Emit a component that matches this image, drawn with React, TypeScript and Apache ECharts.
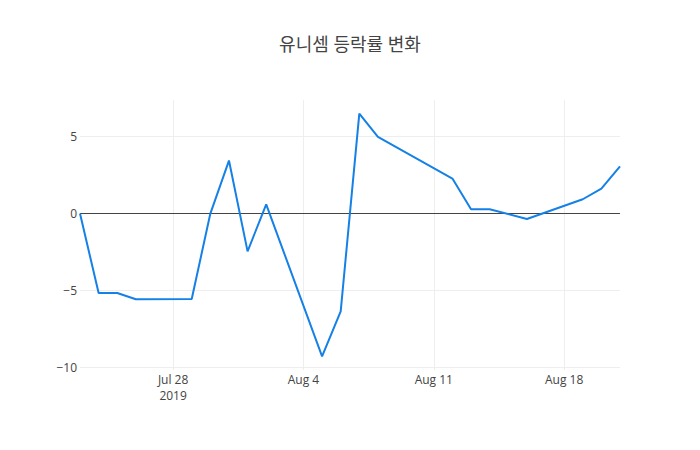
import React, { useEffect, useRef } from "react";
import * as echarts from "echarts";

const titleText = "유니셈 등락률 변화";

const dates = [
  "2019-07-23", "2019-07-24", "2019-07-25", "2019-07-26", "2019-07-29",
  "2019-07-30", "2019-07-31", "2019-08-01", "2019-08-02", "2019-08-05",
  "2019-08-06", "2019-08-07", "2019-08-08", "2019-08-12", "2019-08-13",
  "2019-08-14", "2019-08-16", "2019-08-19", "2019-08-20", "2019-08-21",
];

const changes = [
  0, -5.15, -5.15, -5.56, -5.54,
  0, 3.44, -2.45, 0.6, -9.27,
  -6.34, 6.49, 4.97, 2.27, 0.28,
  0.28, -0.35, 0.93, 1.62, 3.07,
];

const xTickDates = ["2019-07-28", "2019-08-04", "2019-08-11", "2019-08-18"];
const yTicks = [-10, -5, 0, 5];
const monthNames = ["Jan", "Feb", "Mar", "Apr", "May", "Jun", "Jul", "Aug", "Sep", "Oct", "Nov", "Dec"];

const toTime = (s: string) => {
  const [y, m, d] = s.split("-").map(Number);
  return new Date(y, m - 1, d).getTime();
};

const App: React.FC = () => {
  const chartRef = useRef<HTMLDivElement>(null);

  useEffect(() => {
    const chart = echarts.init(chartRef.current!, undefined, { renderer: "svg" });
    const font = '"Open Sans", "Noto Sans CJK KR", sans-serif';
    const xTicks = xTickDates.map(toTime);

    const options = {
      animation: false,
      backgroundColor: "#fff",
      textStyle: { fontFamily: font },
      title: {
        text: titleText,
        left: "center",
        top: 30,
        textStyle: { fontFamily: font, fontSize: 18, fontWeight: "normal", color: "#444" },
      },
      grid: { left: 80, right: 80, top: 100, bottom: 80, containLabel: false },
      xAxis: {
        type: "value",
        min: toTime("2019-07-23"),
        max: toTime("2019-08-21"),
        axisLine: { show: false },
        axisTick: { show: false, customValues: xTicks },
        splitLine: { show: true, lineStyle: { color: "#eee", width: 1 } },
        axisLabel: {
          customValues: xTicks,
          color: "#444",
          fontSize: 12,
          fontFamily: font,
          margin: 1,
          lineHeight: 16,
          formatter: (v: number) => {
            const d = new Date(v);
            const s = monthNames[d.getMonth()] + " " + d.getDate();
            return v === xTicks[0] ? s + "\n" + d.getFullYear() : s;
          },
        },
      },
      yAxis: {
        type: "value",
        min: -10.15,
        max: 7.37,
        axisLine: { show: false },
        axisTick: { show: false, customValues: yTicks },
        splitLine: { show: true, lineStyle: { color: "#eee", width: 1 } },
        axisLabel: {
          customValues: yTicks,
          color: "#444",
          fontSize: 12,
          fontFamily: font,
          margin: 3,
          formatter: (v: number) => (v < 0 ? "\u2212" + Math.abs(v) : String(v)),
        },
      },
      series: [
        {
          type: "line",
          data: dates.map((d, i) => [toTime(d), changes[i]]),
          showSymbol: false,
          lineStyle: { color: "#1580e6", width: 2 },
          itemStyle: { color: "#1580e6" },
          markLine: {
            silent: true,
            symbol: "none",
            label: { show: false },
            lineStyle: { color: "#444", width: 1, type: "solid" },
            data: [{ yAxis: 0 }],
            z: 1,
          },
        },
      ],
    };

    chart.setOption(options);

    return () => {
      chart.dispose();
    };
  }, []);

  return <div ref={chartRef} style={{ width: 700, height: 450, margin: -8 }}></div>;
};

export default App;
